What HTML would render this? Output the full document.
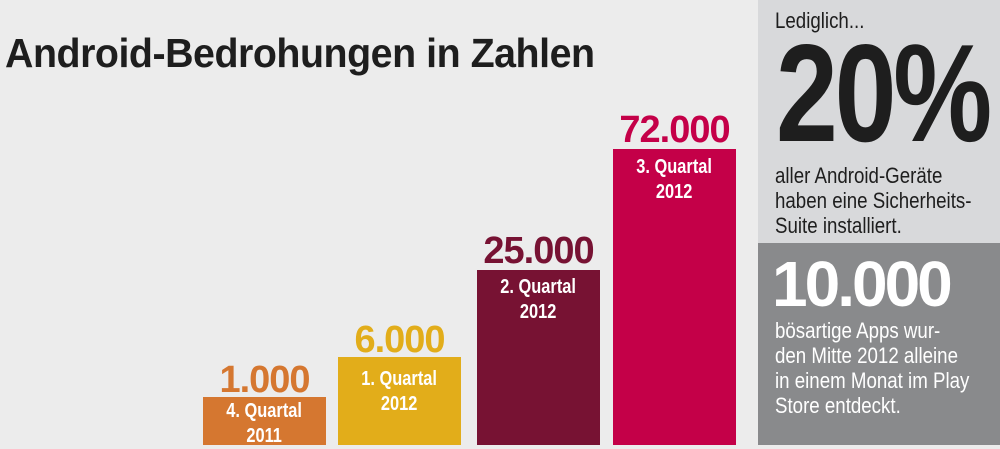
<!DOCTYPE html>
<html><head><meta charset="utf-8"><style>
*{margin:0;padding:0}
body{width:1000px;height:445px;overflow:hidden;background:#ececec;position:relative;font-family:"Liberation Sans",sans-serif}
.a{position:absolute;white-space:nowrap}
.bar{position:absolute;bottom:0;width:123px}
.num{position:absolute;text-align:center;font-size:38px;font-weight:bold;letter-spacing:-1px;line-height:1}
.lab{position:absolute;width:123px;text-align:center;color:#fff;font-weight:bold;font-size:20px;line-height:25px}
.lab span{display:inline-block;transform:scaleX(.82)}
.n{position:absolute;white-space:nowrap;color:#1e1e1e;font-size:22px;line-height:25px;transform-origin:0 0;transform:scaleX(.85)}
</style></head><body>
<div class="a" style="left:5px;top:30px;font-size:41px;font-weight:bold;color:#1e1e1e;letter-spacing:-0.5px;transform:scaleX(.96);transform-origin:0 0">Android-Bedrohungen in Zahlen</div>

<div class="bar" style="left:203px;top:397px;background:#d57730"></div>
<div class="num" style="left:203px;width:123px;top:361px;color:#d57730">1.000</div>
<div class="lab" style="left:203px;top:399px"><span>4. Quartal<br>2011</span></div>

<div class="bar" style="left:338px;top:357px;background:#e2ad1a"></div>
<div class="num" style="left:338px;width:123px;top:321px;color:#e2ad1a">6.000</div>
<div class="lab" style="left:338px;top:367px"><span>1. Quartal<br>2012</span></div>

<div class="bar" style="left:477px;top:270px;background:#771233"></div>
<div class="num" style="left:470px;width:137px;top:232px;color:#771233">25.000</div>
<div class="lab" style="left:477px;top:275px"><span>2. Quartal<br>2012</span></div>

<div class="bar" style="left:613px;top:149px;background:#c40048"></div>
<div class="num" style="left:606px;width:137px;top:111px;color:#c40048">72.000</div>
<div class="lab" style="left:613px;top:155px"><span>3. Quartal<br>2012</span></div>

<div class="a" style="left:758px;top:0;width:242px;height:243px;background:#d8d9db"></div>
<div class="a" style="left:758px;top:243px;width:242px;height:202px;background:#898a8c"></div>
<div class="n" style="left:775px;top:8px">Lediglich...</div>
<div class="a" style="left:776px;top:24px;font-size:139px;font-weight:bold;color:#1e1e1e;line-height:1;letter-spacing:-4px;transform:scaleX(.8);transform-origin:0 0">20%</div>
<div class="n" style="left:775px;top:163px">aller Android-Geräte<br>haben eine Sicherheits-<br>Suite installiert.</div>
<div class="a" style="left:772px;top:252px;font-size:64px;font-weight:bold;color:#fff;line-height:1;letter-spacing:-3px">10.000</div>
<div class="n" style="left:775px;top:318px;color:#fff">bösartige Apps wur-<br>den Mitte 2012 alleine<br>in einem Monat im Play<br>Store entdeckt.</div>
</body></html>
